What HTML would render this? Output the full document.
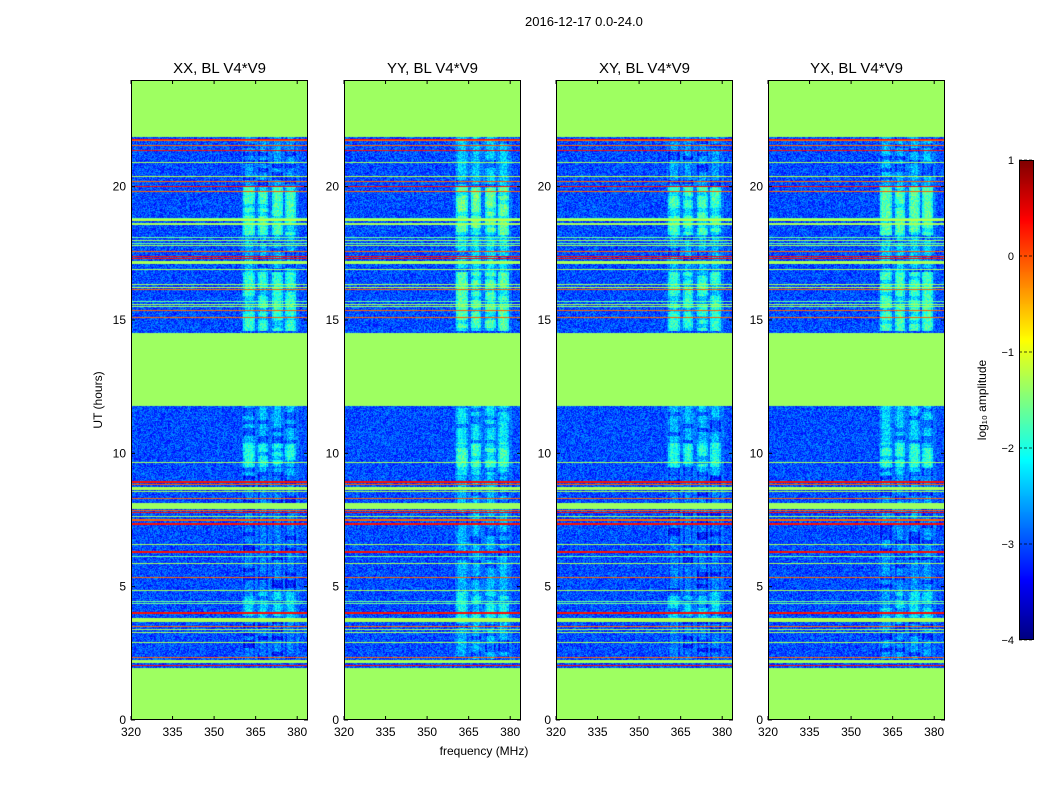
<!DOCTYPE html>
<html><head><meta charset="utf-8"><style>
body{margin:0;background:#fff;font-family:"Liberation Sans",sans-serif;}
#wrap{position:relative;width:1050px;height:800px;overflow:hidden}
.t{position:absolute;font-size:13px;color:#000;white-space:nowrap}
canvas{position:absolute}
</style></head><body>
<div id="wrap">
<div class="t" style="left:525px;top:14px">2016-12-17 0.0-24.0</div>
<svg id="svg" width="1050" height="800" style="position:absolute;left:0;top:0"></svg>
</div>
<script>
// ---- data ----
const panelNames=["XX, BL V4*V9","YY, BL V4*V9","XY, BL V4*V9","YX, BL V4*V9"];
const panelGain=[1.0,1.1,1.0,1.05];
const xTicks=[320,335,350,365,380];
const yTicks=[0,5,10,15,20];
const cbTicks=[1,0,-1,-2,-3,-4];
const maskedIntervals=[[0,1.94],[11.78,14.5],[21.86,24]];
const lineHours=[21.77,21.72,21.56,21.35,20.90,20.37,20.19,20.0,19.83,18.80,18.75,18.6,18.11,17.97,17.88,17.78,17.56,17.37,17.31,17.15,16.90,16.34,16.21,16.15,15.69,15.59,15.50,15.34,15.10,
9.66,8.94,8.84,8.69,8.56,8.30,8.01,7.84,7.77,7.62,7.5,7.35,6.59,6.3,6.12,5.88,5.34,4.86,4.45,4.38,4.02,3.75,3.50,3.40,3.27,2.92,2.35,2.19,2.03];
const lineWidths=[0.04,0.04,0.04,0.04,0.04,0.04,0.04,0.04,0.04,0.04,0.04,0.04,0.04,0.04,0.04,0.04,0.04,0.04,0.04,0.1,0.04,0.04,0.04,0.04,0.04,0.04,0.04,0.04,0.04,
0.04,0.08,0.04,0.1,0.04,0.04,0.23,0.04,0.04,0.04,0.04,0.06,0.04,0.06,0.04,0.04,0.04,0.04,0.04,0.04,0.06,0.12,0.04,0.04,0.04,0.04,0.04,0.1,0.04];
const lineValues=[0.3,-0.1,-0.1,0.3,-1.3,-1.2,-0.1,0.3,-0.1,-1.6,-1.2,-1.3,-1.6,-1.3,-1.6,-1.3,-0.1,0.3,0.3,-1.3,-1.3,-1.3,-1.2,-0.1,-1.6,-1.3,-1.3,-0.1,-0.1,
-1.3,0.3,-0.1,-1.3,-1.3,-0.1,-1.35,-0.1,0.3,-1.3,-0.1,0.3,-1.3,0.3,-1.6,-1.3,-0.1,-1.3,-1.6,-1.6,0.3,-1.3,-0.1,-1.3,-1.3,-1.3,-0.1,-1.3,0.3];
const bandStart=[14.6,16.8,18.2,20.0,2.3,3.8,9.2,9.5];
const bandEnd=[16.8,18.2,20.0,21.86,9.2,4.8,11.78,10.4];
const bandValue=[-1.9,-2.5,-1.8,-2.6,-2.75,-2.3,-2.45,-2.0];
const stripeLo=[360.4,365.8,370.9,375.6];
const stripeHi=[364.8,369.5,374.9,379.6];
const backgroundValue=-3.0;
// ---- layout ----
const panelX=[131,344,556,768], PW=177, PT=80, PH=640;
const fMin=320, fMax=320+177/2.77, tMax=24;
const xs=f=>(f-fMin)/(fMax-fMin)*PW;
const ys=h=>PH-h/tMax*PH;
function clamp(v){return Math.max(0,Math.min(1,v));}
function jet(v){const t=clamp((v+4)/5);return [clamp(1.5-Math.abs(4*t-3)),clamp(1.5-Math.abs(4*t-2)),clamp(1.5-Math.abs(4*t-1))].map(c=>Math.round(c*255));}
function hash(a,b){let h=(a*374761393+b*668265263)>>>0;h=(h^(h>>>13))*1274126177>>>0;return ((h^(h>>>16))>>>0)/4294967296;}
const wrap=document.getElementById('wrap'), svg=document.getElementById('svg');
const NS='http://www.w3.org/2000/svg';
function sv(tag,attrs,txt){const e=document.createElementNS(NS,tag);for(const k in attrs)e.setAttribute(k,attrs[k]);if(txt!==undefined)e.textContent=txt;svg.appendChild(e);return e;}
panelX.forEach((px,p)=>{
  const c=document.createElement('canvas');c.width=PW;c.height=PH;c.style.left=px+'px';c.style.top=PT+'px';
  
  
  wrap.insertBefore(c,svg);
  const ctx=c.getContext('2d'),img=ctx.createImageData(PW,PH);
  for(let y=0;y<PH;y++){
    const h=(PH-y-0.5)/PH*tMax;
    let masked=maskedIntervals.some(m=>h>=m[0]&&h<m[1]);
    let lv=null;
    lineHours.forEach((lh,i)=>{if(Math.abs(h-lh)<=Math.max(lineWidths[i]/2,0.02))lv=lineValues[i];});
    let bv=null;
    bandStart.forEach((b,i)=>{if(h>=b&&h<bandEnd[i]&&(bv===null||bandValue[i]>bv))bv=bandValue[i];});
    for(let x=0;x<PW;x++){
      const f=fMin+(x+0.5)/PW*(fMax-fMin);
      let v;
      if(masked) v=-1.35;
      else if(lv!==null) v=lv;
      else{
        v=backgroundValue+(hash(x+p*1000,y)-0.5)*0.8;
        if(bv!==null&&f>=stripeLo[0]-0.5&&f<=stripeHi[3]+1){
          const s=stripeLo.findIndex((lo,i)=>f>=lo&&f<=stripeHi[i]);
          if(s>=0){
            const edge=Math.min(f-stripeLo[s],stripeHi[s]-f);
            let sv2=bv*(2-panelGain[p]);
            if(edge<0.8)sv2-=0.3;
            if(hash(Math.floor(y/4),s+p*9)<0.25)sv2-=0.45;
            v=sv2+(hash(y,x+p*77)-0.5)*0.8;
          } else v=-2.8+(hash(x+p*1000,y)-0.5)*0.7;
        }
      }
      const col=jet(v),k=(y*PW+x)*4;
      img.data[k]=col[0];img.data[k+1]=col[1];img.data[k+2]=col[2];img.data[k+3]=255;
    }
  }
  ctx.putImageData(img,0,0);
  const fr=sv('rect',{x:px+0.5,y:PT+0.5,width:PW-1,height:PH-1,fill:'none',stroke:'#000','stroke-width':1});
  
  const tt=sv('text',{x:px+PW/2,y:73,'text-anchor':'middle','font-size':15,'font-family':'Liberation Sans'},panelNames[p]);
  
  xTicks.forEach(t=>{const X=px+xs(t);
    sv('line',{x1:X,y1:PT+PH,x2:X,y2:PT+PH-4,stroke:'#000'});sv('line',{x1:X,y1:PT,x2:X,y2:PT+4,stroke:'#000'});
    const l=sv('text',{x:X,y:PT+PH+16,'text-anchor':'middle','font-size':12,'font-family':'Liberation Sans'},t);
    });
  yTicks.forEach(t=>{const Y=PT+ys(t);
    sv('line',{x1:px,y1:Y,x2:px+4,y2:Y,stroke:'#000'});sv('line',{x1:px+PW,y1:Y,x2:px+PW-4,y2:Y,stroke:'#000'});
    const l=sv('text',{x:px-5,y:Y+4,'text-anchor':'end','font-size':12,'font-family':'Liberation Sans'},t);
    });
});
const yl=sv('text',{x:102,y:400,'text-anchor':'middle','font-size':12,'font-family':'Liberation Sans',transform:'rotate(-90 102 400)'},'UT (hours)');

const xl=sv('text',{x:484,y:755,'text-anchor':'middle','font-size':12,'font-family':'Liberation Sans'},'frequency (MHz)');

// colorbar
const cb=document.createElement('canvas');cb.width=15;cb.height=480;cb.style.left='1019px';cb.style.top='160px';


wrap.insertBefore(cb,svg);
const cctx=cb.getContext('2d');
for(let y=0;y<480;y++){const c=jet(1-(y+0.5)/480*5);cctx.fillStyle=`rgb(${c[0]},${c[1]},${c[2]})`;cctx.fillRect(0,y,15,1);}
sv('rect',{x:1019.5,y:160.5,width:14,height:479,fill:'none',stroke:'#000'});
const cbY=v=>160+(1-v)/5*480;
cbTicks.forEach(t=>{const Y=cbY(t);sv('line',{x1:1019,y1:Y,x2:1034,y2:Y,stroke:'#000','stroke-dasharray':'3,2','stroke-opacity':0.7});
  const l=sv('text',{x:1014,y:Y+4,'text-anchor':'end','font-size':11,'font-family':'Liberation Sans'},t<0?'\u2212'+(-t):t);
  });
const cl=sv('text',{x:986,y:400,'text-anchor':'middle','font-size':12,'font-family':'Liberation Sans',transform:'rotate(-90 986 400)'},'log\u2081\u2080 amplitude');

</script>
</body></html>
